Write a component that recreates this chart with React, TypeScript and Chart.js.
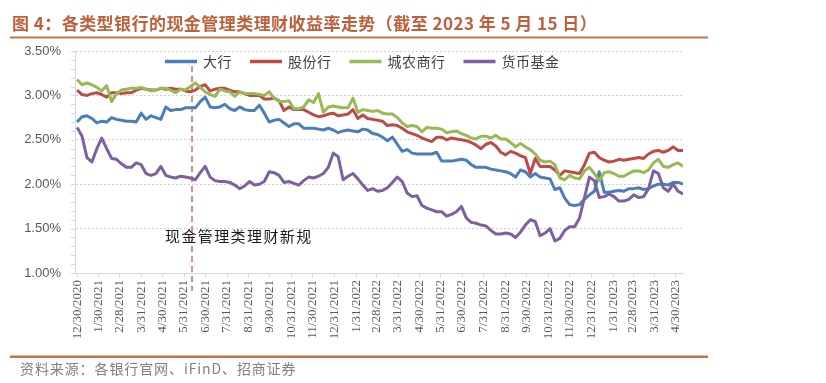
import React, { useEffect, useRef } from 'react';
import { Chart, registerables } from 'chart.js';

Chart.register(...registerables);

// ---- data ----
const titleText = '图 4：各类型银行的现金管理类理财收益率走势（截至 2023 年 5 月 15 日）';
const sourceText = '资料来源：各银行官网、iFinD、招商证券';
const annotationText = '现金管理类理财新规';
const annotationDay = 163; // 2021-06-11, days after 2020-12-30

const seriesNames = ['大行', '股份行', '城农商行', '货币基金'];

// month-end tick positions, days after 2020-12-30
const monthTickDays = [0, 31, 60, 91, 121, 152, 182, 213, 244, 274, 305, 335, 366, 397, 425, 456, 486, 517, 547, 578, 609, 639, 670, 700, 731, 762, 790, 821, 851];
const monthTickLabels = ['12/30/2020', '1/30/2021', '2/28/2021', '3/31/2021', '4/30/2021', '5/31/2021', '6/30/2021', '7/31/2021', '8/31/2021', '9/30/2021', '10/31/2021', '11/30/2021', '12/31/2021', '1/31/2022', '2/28/2022', '3/31/2022', '4/30/2022', '5/31/2022', '6/30/2022', '7/31/2022', '8/31/2022', '9/30/2022', '10/31/2022', '11/30/2022', '12/31/2022', '1/31/2023', '2/28/2023', '3/31/2023', '4/30/2023'];

const bigBanks = [
  2.70, 2.76, 2.77, 2.74, 2.69, 2.71, 2.70, 2.75, 2.73, 2.72,
  2.71, 2.71, 2.70, 2.80, 2.73, 2.77, 2.75, 2.73, 2.87, 2.83,
  2.84, 2.84, 2.86, 2.86, 2.86, 2.93, 2.98, 2.87, 2.86, 2.87,
  2.90, 2.85, 2.83, 2.87, 2.84, 2.83, 2.83, 2.89, 2.80, 2.70,
  2.72, 2.73, 2.69, 2.65, 2.68, 2.68, 2.63, 2.63, 2.63, 2.62,
  2.61, 2.63, 2.61, 2.58, 2.60, 2.61, 2.60, 2.59, 2.62, 2.61,
  2.57, 2.56, 2.53, 2.49, 2.53, 2.45, 2.37, 2.39, 2.35, 2.34,
  2.34, 2.34, 2.34, 2.36, 2.26, 2.26, 2.26, 2.27, 2.28, 2.27,
  2.22, 2.19, 2.19, 2.19, 2.17, 2.16, 2.15, 2.14, 2.12, 2.08,
  2.16, 2.14, 2.08, 2.12, 2.08, 2.07, 2.06, 1.94, 1.96, 1.84,
  1.77, 1.76, 1.77, 1.83, 1.88, 1.92, 2.14, 1.91, 1.91, 1.92,
  1.93, 1.92, 1.95, 1.95, 1.96, 1.94, 1.95, 1.98, 2.00, 2.00,
  1.99, 2.02, 2.02, 2.00,
];

const jointStockBanks = [
  3.06, 3.01, 3.00, 3.02, 3.03, 3.01, 2.98, 3.03, 3.03, 3.02,
  3.03, 3.03, 3.06, 3.08, 3.07, 3.06, 3.06, 3.08, 3.07, 3.08,
  3.07, 3.07, 3.05, 3.04, 3.06, 3.10, 3.12, 3.05, 3.07, 3.08,
  3.08, 3.06, 3.04, 3.04, 3.02, 3.00, 3.00, 3.00, 2.96, 2.96,
  2.97, 2.94, 2.83, 2.87, 2.84, 2.84, 2.84, 2.81, 2.78, 2.76,
  2.77, 2.79, 2.80, 2.77, 2.78, 2.79, 2.84, 2.74, 2.78, 2.74,
  2.73, 2.72, 2.71, 2.66, 2.67, 2.66, 2.63, 2.59, 2.57, 2.55,
  2.52, 2.50, 2.48, 2.53, 2.53, 2.50, 2.52, 2.51, 2.50, 2.49,
  2.47, 2.44, 2.40, 2.45, 2.47, 2.43, 2.36, 2.33, 2.37, 2.35,
  2.32, 2.30, 2.12, 2.29, 2.20, 2.20, 2.20, 2.16, 2.10, 2.15,
  2.14, 2.13, 2.12, 2.22, 2.35, 2.36, 2.30, 2.27, 2.25, 2.26,
  2.28, 2.27, 2.28, 2.29, 2.30, 2.29, 2.34, 2.37, 2.38, 2.36,
  2.38, 2.42, 2.38, 2.38,
];

const cityRuralBanks = [
  3.18, 3.12, 3.14, 3.12, 3.09, 3.05, 3.11, 2.93, 3.02, 3.06,
  3.07, 3.08, 3.08, 3.09, 3.07, 3.05, 3.06, 3.08, 3.08, 3.06,
  3.03, 3.07, 3.06, 3.10, 3.14, 3.09, 3.04, 3.01, 2.99, 3.07,
  3.05, 3.04, 2.99, 3.04, 3.02, 3.02, 3.02, 3.01, 3.00, 3.04,
  2.97, 2.93, 2.93, 2.94, 2.85, 2.85, 2.87, 2.95, 2.92, 3.02,
  2.81, 2.87, 2.88, 2.87, 2.86, 2.86, 2.97, 2.81, 2.84, 2.83,
  2.82, 2.83, 2.80, 2.79, 2.79, 2.75, 2.69, 2.65, 2.66, 2.65,
  2.59, 2.64, 2.63, 2.63, 2.62, 2.58, 2.59, 2.60, 2.57, 2.55,
  2.52, 2.51, 2.54, 2.54, 2.52, 2.55, 2.51, 2.51, 2.47, 2.42,
  2.46, 2.42, 2.39, 2.34, 2.27, 2.25, 2.26, 2.22, 2.07, 2.05,
  2.10, 2.07, 2.06, 2.15, 2.19, 2.12, 2.04, 2.13, 2.14, 2.12,
  2.09, 2.09, 2.12, 2.15, 2.15, 2.13, 2.16, 2.24, 2.28, 2.20,
  2.19, 2.22, 2.24, 2.20,
];

const moneyFunds = [
  2.64, 2.54, 2.30, 2.25, 2.40, 2.52, 2.40, 2.29, 2.28, 2.23,
  2.19, 2.19, 2.24, 2.22, 2.12, 2.10, 2.12, 2.20, 2.10, 2.08,
  2.07, 2.09, 2.08, 2.07, 2.05, 2.13, 2.20, 2.08, 2.04, 2.03,
  2.03, 2.02, 1.99, 1.95, 1.98, 2.03, 1.99, 2.00, 2.03, 2.14,
  2.13, 2.10, 2.02, 2.03, 2.01, 1.99, 2.04, 2.08, 2.07, 2.09,
  2.12, 2.19, 2.35, 2.31, 2.05, 2.09, 2.12, 2.06, 1.99, 1.93,
  1.95, 1.92, 1.93, 1.96, 2.02, 2.08, 2.03, 1.90, 1.86, 1.87,
  1.76, 1.73, 1.71, 1.69, 1.69, 1.64, 1.66, 1.69, 1.75, 1.62,
  1.57, 1.56, 1.54, 1.53, 1.48, 1.44, 1.44, 1.45, 1.44, 1.40,
  1.46, 1.54, 1.60, 1.58, 1.42, 1.45, 1.50, 1.36, 1.39, 1.48,
  1.52, 1.52, 1.62, 1.85, 2.08, 2.04, 1.85, 1.86, 1.89, 1.86,
  1.81, 1.81, 1.83, 1.88, 1.85, 1.86, 1.95, 2.15, 2.12, 1.96,
  1.92, 2.00, 1.92, 1.89,
];

// weekly observation dates, days after 2020-12-30
const weekDays = bigBanks.map((_, i) => i * 7);

const seriesValues = [bigBanks, jointStockBanks, cityRuralBanks, moneyFunds];
const seriesColors = ['#4A7EBB', '#BE4B48', '#98B954', '#7D60A0'];

const FONT_CJK = '"Noto Sans CJK SC", "Noto Sans", sans-serif';

export default function App() {
  const canvasRef = useRef<HTMLCanvasElement>(null);

  useEffect(() => {
    const canvas = canvasRef.current;
    if (!canvas) return;

    const overlay = {
      id: 'overlay',
      beforeDatasetsDraw(chart: any) {
        const { ctx, scales } = chart;
        const x = Math.round(scales.x.getPixelForValue(annotationDay));
        ctx.save();
        ctx.strokeStyle = '#D98C8A';
        ctx.lineWidth = 2;
        ctx.setLineDash([6, 4]);
        ctx.beginPath();
        ctx.moveTo(x, 66);
        ctx.lineTo(x, 291);
        ctx.stroke();
        ctx.restore();
      },
      afterDraw(chart: any) {
        const { ctx, scales, chartArea } = chart;
        ctx.save();
        // minor ticks on y axis
        ctx.strokeStyle = '#D9D9D9';
        ctx.lineWidth = 1;
        for (let k = 0; k <= 25; k++) {
          const v = 1 + k * 0.1;
          const y = Math.round(scales.y.getPixelForValue(v)) + 0.5;
          ctx.beginPath();
          ctx.moveTo(chartArea.left - 4, y);
          ctx.lineTo(chartArea.left, y);
          ctx.stroke();
        }

        // title
        ctx.fillStyle = '#BF5F3A';
        ctx.font = `bold 17px ${FONT_CJK}`;
        (ctx as any).letterSpacing = '0.45px';
        ctx.textBaseline = 'middle';
        ctx.textAlign = 'left';
        ctx.fillText(titleText, 12, 24);

        // rules
        ctx.fillStyle = '#C8734F';
        ctx.fillRect(10, 36.5, 698, 2);
        ctx.fillRect(10, 355.5, 698, 2.5);

        // source
        ctx.fillStyle = '#808080';
        ctx.font = `14px ${FONT_CJK}`;
        (ctx as any).letterSpacing = '0.9px';
        ctx.fillText(sourceText, 20, 369);

        // annotation
        ctx.fillStyle = '#1A1A1A';
        ctx.font = `15px ${FONT_CJK}`;
        (ctx as any).letterSpacing = '1.4px';
        ctx.fillText(annotationText, 165, 236);

        // legend
        ctx.font = `14px ${FONT_CJK}`;
        (ctx as any).letterSpacing = '0.5px';
        let lx = 165;
        const ly = 61.5;
        seriesNames.forEach((name, i) => {
          ctx.strokeStyle = seriesColors[i];
          ctx.lineWidth = 3.5;
          ctx.setLineDash([]);
          ctx.beginPath();
          ctx.moveTo(lx, ly);
          ctx.lineTo(lx + 32, ly);
          ctx.stroke();
          ctx.fillStyle = '#404040';
          ctx.fillText(name, lx + 38, ly);
          lx += 38 + ctx.measureText(name).width + 18;
        });
        ctx.restore();
      },
    };

    const chart = new Chart(canvas, {
      type: 'line',
      data: {
        datasets: seriesNames.map((name, i) => ({
          label: name,
          data: seriesValues[i].map((v, j) => ({ x: weekDays[j], y: v })),
          borderColor: seriesColors[i],
          backgroundColor: seriesColors[i],
          borderWidth: 3,
          pointRadius: 0,
          tension: 0,
          borderJoinStyle: 'round' as const,
          order: seriesNames.length - i,
        })),
      },
      options: {
        responsive: false,
        animation: false,
        devicePixelRatio: 1,
        layout: { padding: { top: 51, right: 143, left: 0, bottom: 0 } },
        plugins: {
          legend: { display: false },
          title: { display: false },
          tooltip: { enabled: false },
        },
        scales: {
          x: {
            type: 'linear',
            min: -3,
            max: weekDays[weekDays.length - 1],
            afterBuildTicks: (scale: any) => {
              scale.ticks = monthTickDays.map((v) => ({ value: v }));
            },
            afterFit: (scale: any) => {
              scale.height = 110;
            },
            ticks: {
              autoSkip: false,
              minRotation: 90,
              maxRotation: 90,
              padding: 3,
              color: '#595959',
              font: { family: '"Liberation Serif", "Times New Roman", serif', size: 13 },
              callback: (value: any) => {
                const idx = monthTickDays.indexOf(Number(value));
                return idx >= 0 ? monthTickLabels[idx] : '';
              },
            },
            grid: {
              display: true,
              drawOnChartArea: false,
              drawTicks: true,
              tickLength: 4,
              color: '#D9D9D9',
            },
            border: { display: true, color: '#D9D9D9', width: 1 },
          },
          y: {
            min: 1,
            max: 3.5,
            afterFit: (scale: any) => {
              scale.width = 75;
            },
            ticks: {
              stepSize: 0.5,
              padding: 14,
              color: '#595959',
              font: { family: '"Liberation Sans", Arial, sans-serif', size: 13 },
              callback: (value: any) => Number(value).toFixed(2) + '%',
            },
            grid: {
              display: true,
              drawTicks: false,
              color: '#D0D0D0',
              lineWidth: 1,
            },
            border: { display: true, color: '#D9D9D9', width: 1, dash: [2, 2] },
          },
        },
      },
      plugins: [overlay],
    });

    return () => chart.destroy();
  }, []);

  return (
    <div style={{ position: 'absolute', left: 0, top: 0, width: 826, height: 383, background: '#ffffff' }}>
      <canvas ref={canvasRef} width={826} height={383} style={{ display: 'block' }} />
    </div>
  );
}
